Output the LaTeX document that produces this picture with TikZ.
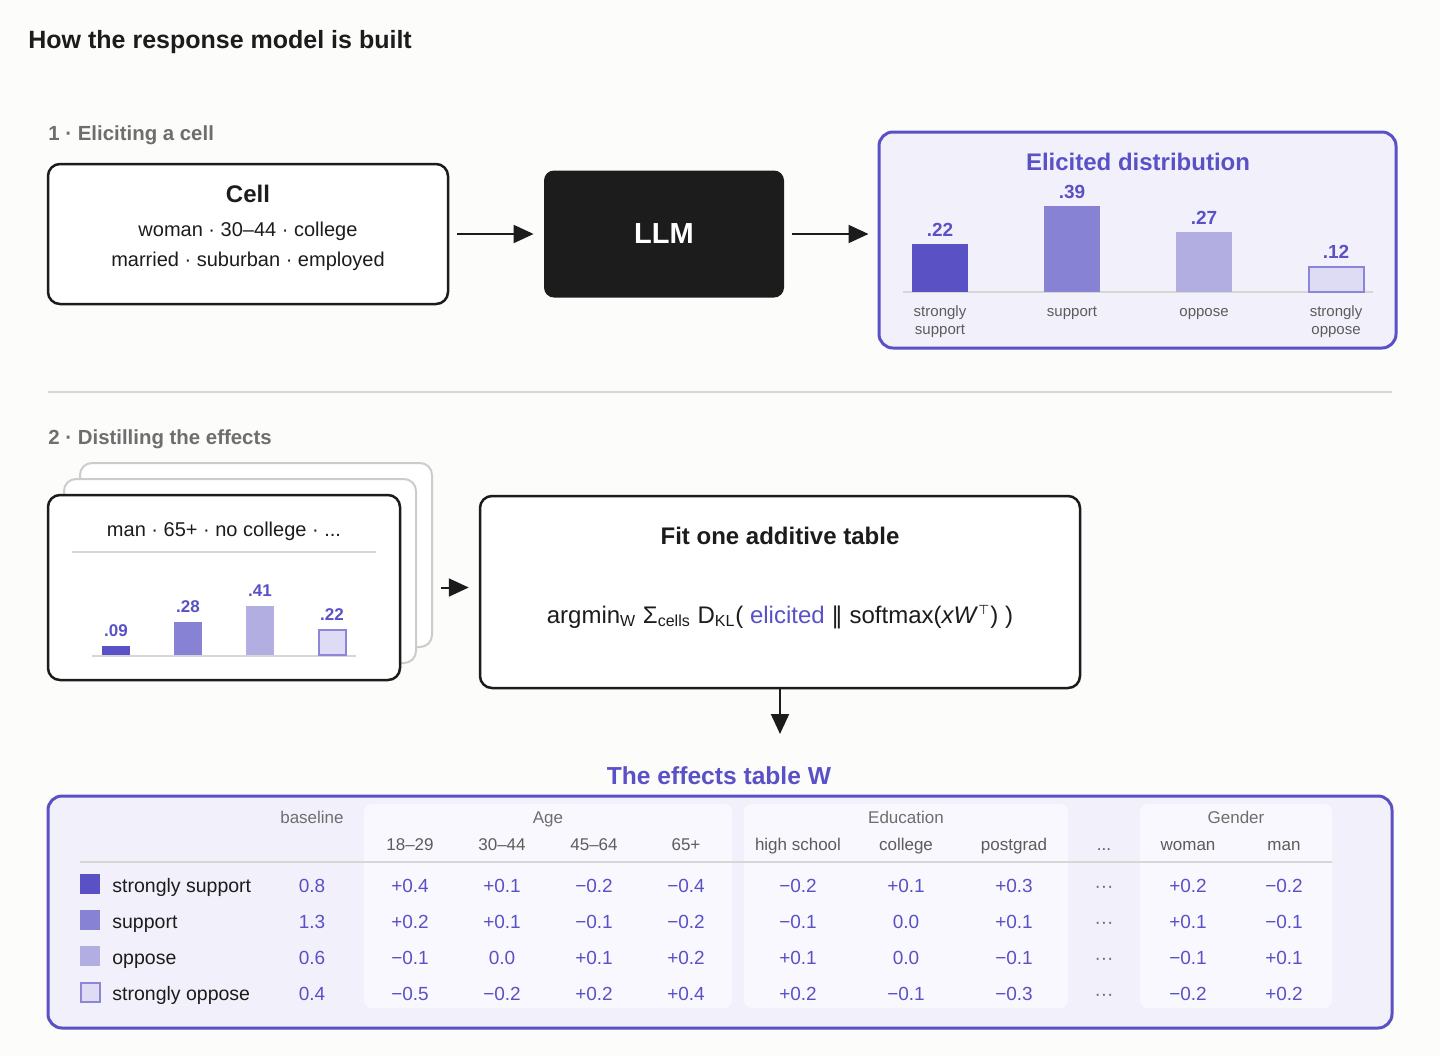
\documentclass[tikz,border=0pt]{standalone}
\usepackage{fontspec}
\setmainfont{Liberation Sans}
\newfontfamily\djv{DejaVu Sans}
\usetikzlibrary{arrows.meta}
\definecolor{pur}{HTML}{5A51C6}
\definecolor{barA}{HTML}{5A52C4}
\definecolor{barB}{HTML}{8782D4}
\definecolor{barC}{HTML}{B3AEE2}
\definecolor{barD}{HTML}{DEDCF4}
\definecolor{barDe}{HTML}{8C86D8}
\definecolor{lav}{HTML}{F2F1FB}
\definecolor{panel}{HTML}{F9F8FE}
\definecolor{bg}{HTML}{FCFCFB}
\definecolor{ink}{HTML}{1C1C1C}
\definecolor{gr}{HTML}{6E6E6E}
\definecolor{gr2}{HTML}{5C5C5C}
\definecolor{rulec}{HTML}{D6D6D6}
\definecolor{cardg}{HTML}{CCCCCC}
\newcommand{\myfs}[1]{\fontsize{#1pt}{#1pt}\selectfont}
\tikzset{
  tx/.style={inner sep=0pt, anchor=base},
  blackbox/.style={draw=ink, line width=1.25pt, rounded corners=6pt, fill=white, inner sep=0pt},
  graycard/.style={draw=cardg, line width=1pt, rounded corners=6pt, fill=white, inner sep=0pt},
  purbox/.style={draw=pur, line width=1.5pt, rounded corners=7pt, fill=lav, inner sep=0pt},
  arr/.style={draw=ink, line width=1pt, -{Triangle[length=10pt,width=9pt]}},
  rl/.style={draw=rulec, line width=1pt},
  barlab/.style={tx, font=\bfseries\myfs{9.5}, text=pur},
  smlab/.style={tx, font=\bfseries\myfs{8.5}, text=pur},
  catlab/.style={tx, font=\myfs{7.5}, text=gr2},
  hd/.style={tx, font=\myfs{8.5}, text=gr},
  sub/.style={tx, font=\myfs{8.5}, text=gr2},
  rowlab/.style={tx, anchor=base west, font=\myfs{9.75}, text=ink},
  val/.style={tx, font=\myfs{9.5}, text=pur},
}
\begin{document}
\begin{tikzpicture}[x=0.5pt,y=-0.5pt]
\fill[bg] (0,0) rectangle (1440,1056);
\useasboundingbox (0,0) rectangle (1440,1056);

% title and section heads
\node[tx, anchor=base west, font=\bfseries\myfs{12.5}, text=ink] (title) at (28,48) {How the response model is built};
\node[tx, anchor=base west, font=\bfseries\myfs{10.2}, text=gr] (s1) at (48,140) {1 · Eliciting a cell};
\node[tx, anchor=base west, font=\bfseries\myfs{10.2}, text=gr] (s2) at (48,444) {2 · Distilling the effects};

% ---- section 1
\node[blackbox, minimum width=200pt, minimum height=70pt] (cell) at (248,234) {};
\node[tx, font=\bfseries\myfs{12}, text=ink] (celltitle) at (248,202) {Cell};
\node[tx, font=\myfs{10}, text=ink] (cellA) at (248,236) {woman · 30–44 · college};
\node[tx, font=\myfs{10}, text=ink] (cellB) at (248,266) {married · suburban · employed};

\node[fill=ink, rounded corners=5pt, minimum width=120pt, minimum height=63.5pt, inner sep=0pt,
      font=\bfseries\myfs{14.5}, text=white] (llm) at (664,234) {LLM};

\node[purbox, minimum width=258.5pt, minimum height=108pt] (dist) at (1137.5,240) {};
\node[tx, font=\bfseries\myfs{12}, text=pur] (disttitle) at (1138,170) {Elicited distribution};
\draw[rl] (903,292) -- (1373,292);
\fill[barA] (912,244) rectangle (968,292);
\fill[barB] (1044,206) rectangle (1100,292);
\fill[barC] (1176,232) rectangle (1232,292);
\draw[barDe, fill=barD, line width=1pt] (1309,266.5) rectangle (1364,291.5);
\node[barlab] (d1) at (940,236) {.22};
\node[barlab] (d2) at (1072,198) {.39};
\node[barlab] (d3) at (1204,224) {.27};
\node[barlab] (d4) at (1336,258) {.12};
\node[catlab] (c1a) at (940,316) {strongly};
\node[catlab] (c1b) at (940,334) {support};
\node[catlab] (c2) at (1072,316) {support};
\node[catlab] (c3) at (1204,316) {oppose};
\node[catlab] (c4a) at (1336,316) {strongly};
\node[catlab] (c4b) at (1336,334) {oppose};

\path (dist.west |- llm.east) coordinate (t2);
\draw[arr] ([xshift=4pt]cell.east) -- ([xshift=-5pt]llm.west);
\draw[arr] ([xshift=4pt]llm.east) -- ([xshift=-4.5pt]t2);

% divider
\draw[draw=rulec, line width=1pt] (48,392) -- (1392,392);

% ---- section 2
\node[graycard, minimum width=176pt, minimum height=92pt] (card3) at (256,555) {};
\node[graycard, minimum width=176pt, minimum height=92pt] (card2) at (240,571) {};
\node[blackbox, minimum width=176pt, minimum height=92.5pt] (card) at (224,587.5) {};
\node[tx, font=\myfs{10}, text=ink] (cardtitle) at (224,536) {man · 65+ · no college · ...};
\draw[rl] (72,552) -- (376,552);
\draw[rl] (92,656) -- (356,656);
\fill[barA] (102,646) rectangle (130,655);
\fill[barB] (174,622) rectangle (202,655);
\fill[barC] (246,606) rectangle (274,655);
\draw[barDe, fill=barD, line width=1pt] (318.5,630) rectangle (345.5,655);
\node[smlab] (e1) at (116,636) {.09};
\node[smlab] (e2) at (188,612) {.28};
\node[smlab] (e3) at (260,596) {.41};
\node[smlab] (e4) at (332,620) {.22};

\node[blackbox, minimum width=300pt, minimum height=96pt] (fit) at (780,592) {};
\node[tx, font=\bfseries\myfs{12}, text=ink] (fittitle) at (780,544) {Fit one additive table};
\node[tx, font=\myfs{12}, text=ink] (formula) at (780,623)
  {argmin\textsubscript{W} Σ\textsubscript{cells} D\textsubscript{KL}( \textcolor{pur}{elicited} {\djv\myfs{11.5}‖} softmax(\textit{xW}\textsuperscript{\djv\myfs{6.5}⊤}) )};

\path (fit.west |- card.east) coordinate (t3);
\draw[arr] ([xshift=20pt]card.east) -- ([xshift=-5pt]t3);
\coordinate (t4) at (780,734);
\draw[arr] (fit.south) -- (t4);

% ---- effects table
\node[tx, font=\bfseries\myfs{12.3}, text=pur] (tabtitle) at (719,784) {The effects table W};
\node[purbox, minimum width=672pt, minimum height=116pt] (tab) at (720,912) {};
\fill[panel, rounded corners=4pt] (364,804) rectangle (732,1008);
\fill[panel, rounded corners=4pt] (744,804) rectangle (1068,1008);
\fill[panel, rounded corners=4pt] (1140,804) rectangle (1332,1008);
\draw[rl] (80,862) -- (1332,862);

\node[hd] (hbase) at (312,823) {baseline};
\node[hd] (hage) at (548,823) {Age};
\node[hd] (hedu) at (906,823) {Education};
\node[hd] (hgen) at (1236,823) {Gender};
\foreach \x/\t [count=\j] in {410/18–29, 502/30–44, 594/45–64, 686/65+, 798/high school, 906/college, 1014/postgrad, 1188/woman, 1284/man}
  \node[sub] (sh\j) at (\x,850) {\t};
\node[sub] (shdots) at (1104,850) {...};

% legend swatches
\fill[barA] (80,874) rectangle (100,894);
\fill[barB] (80,910) rectangle (100,930);
\fill[barC] (80,946) rectangle (100,966);
\draw[barDe, fill=barD, line width=1pt] (80.5,982.5) rectangle (99.5,1001.5);
\node[rowlab] (l1) at (112,892) {strongly support};
\node[rowlab] (l2) at (112,928) {support};
\node[rowlab] (l3) at (112,964) {oppose};
\node[rowlab] (l4) at (112,1000) {strongly oppose};

\foreach \x/\v [count=\j] in {312/0.8, 410/+0.4, 502/+0.1, 594/−0.2, 686/−0.4, 798/−0.2, 906/+0.1, 1014/+0.3, 1188/+0.2, 1284/−0.2}
  \node[val] (ra\j) at (\x,892) {\v};
\foreach \x/\v [count=\j] in {312/1.3, 410/+0.2, 502/+0.1, 594/−0.1, 686/−0.2, 798/−0.1, 906/0.0, 1014/+0.1, 1188/+0.1, 1284/−0.1}
  \node[val] (rb\j) at (\x,928) {\v};
\foreach \x/\v [count=\j] in {312/0.6, 410/−0.1, 502/0.0, 594/+0.1, 686/+0.2, 798/+0.1, 906/0.0, 1014/−0.1, 1188/−0.1, 1284/+0.1}
  \node[val] (rc\j) at (\x,964) {\v};
\foreach \x/\v [count=\j] in {312/0.4, 410/−0.5, 502/−0.2, 594/+0.2, 686/+0.4, 798/+0.2, 906/−0.1, 1014/−0.3, 1188/−0.2, 1284/+0.2}
  \node[val] (rd\j) at (\x,1000) {\v};
\foreach \y [count=\j] in {892,928,964,1000}
  \node[tx, font=\myfs{9.5}, text=gr] (dots\j) at (1104,\y) {···};
\end{tikzpicture}
\end{document}
